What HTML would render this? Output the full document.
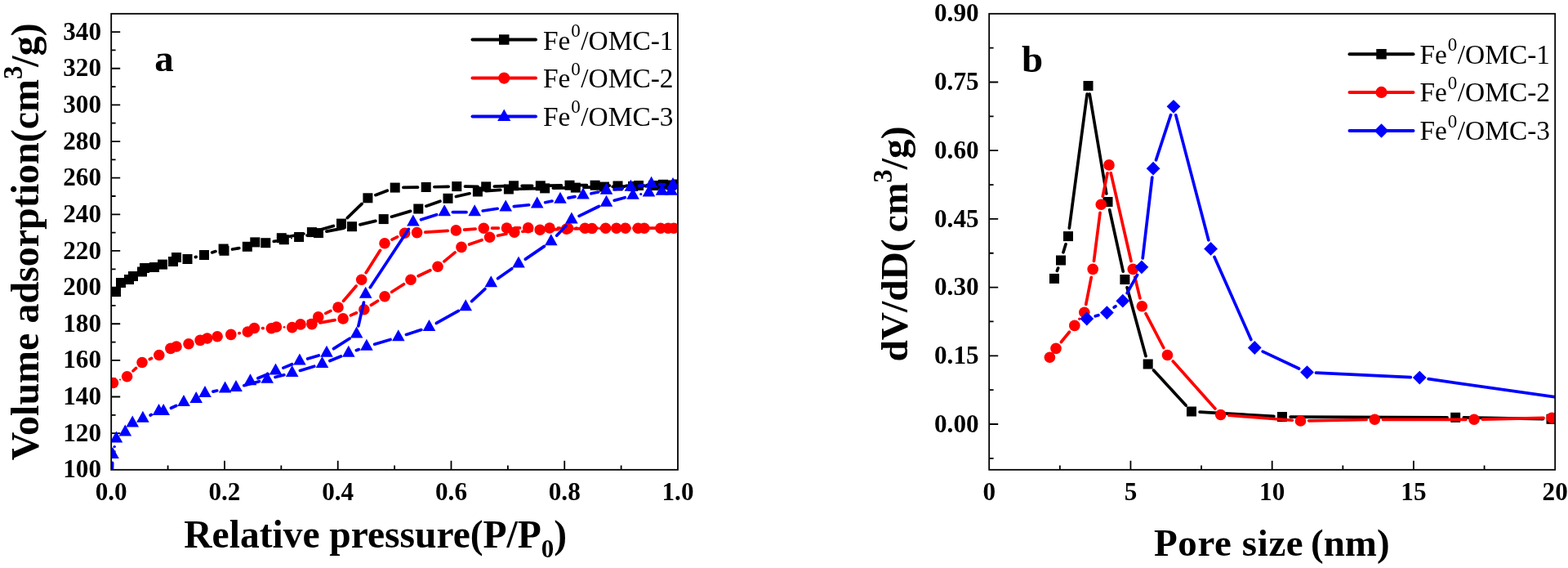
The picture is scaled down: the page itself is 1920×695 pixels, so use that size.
<!DOCTYPE html><html><head><meta charset="utf-8"><title>Isotherms and pore size distribution</title>
<style>html,body{margin:0;padding:0;background:#fff;width:1920px;height:695px;overflow:hidden}svg{display:block}</style></head><body>
<svg width="1920" height="695" viewBox="0 0 1920 695">
<rect width="1920" height="695" fill="#fff"/>
<defs><clipPath id="ca"><rect x="136.2" y="16.8" width="693.8" height="558"/></clipPath><clipPath id="cb"><rect x="1211.2" y="16.8" width="693" height="558"/></clipPath></defs>
<path d="M136.2 552.48h5.4M136.2 530.16h11M136.2 507.84h5.4M136.2 485.52h11M136.2 463.2h5.4M136.2 440.88h11M136.2 418.56h5.4M136.2 396.24h11M136.2 373.92h5.4M136.2 351.6h11M136.2 329.28h5.4M136.2 306.96h11M136.2 284.64h5.4M136.2 262.32h11M136.2 240h5.4M136.2 217.68h11M136.2 195.36h5.4M136.2 173.04h11M136.2 150.72h5.4M136.2 128.4h11M136.2 106.08h5.4M136.2 83.76h11M136.2 61.44h5.4M136.2 39.12h11M205.58 574.8v-5.4M274.96 574.8v-11M344.34 574.8v-5.4M413.72 574.8v-11M483.1 574.8v-5.4M552.48 574.8v-11M621.86 574.8v-5.4M691.24 574.8v-11M760.62 574.8v-5.4M1211.2 560.85h5.4M1211.2 519h11M1211.2 477.15h5.4M1211.2 435.3h11M1211.2 393.45h5.4M1211.2 351.6h11M1211.2 309.75h5.4M1211.2 267.9h11M1211.2 226.05h5.4M1211.2 184.2h11M1211.2 142.35h5.4M1211.2 100.5h11M1211.2 58.65h5.4M1297.83 574.8v-5.4M1384.45 574.8v-11M1471.08 574.8v-5.4M1557.7 574.8v-11M1644.33 574.8v-5.4M1730.95 574.8v-11M1817.58 574.8v-5.4" stroke="#000" stroke-width="1.8" fill="none"/>
<g style='font-family:"Liberation Serif","Times New Roman",serif;font-weight:bold;font-size:31.2px' fill="#000"><text x="124" y="584.4" text-anchor="end">100</text><text x="124" y="539.76" text-anchor="end">120</text><text x="124" y="495.12" text-anchor="end">140</text><text x="124" y="450.48" text-anchor="end">160</text><text x="124" y="405.84" text-anchor="end">180</text><text x="124" y="361.2" text-anchor="end">200</text><text x="124" y="316.56" text-anchor="end">220</text><text x="124" y="271.92" text-anchor="end">240</text><text x="124" y="227.28" text-anchor="end">260</text><text x="124" y="182.64" text-anchor="end">280</text><text x="124" y="138" text-anchor="end">300</text><text x="124" y="93.36" text-anchor="end">320</text><text x="124" y="48.72" text-anchor="end">340</text><text x="136.2" y="611.8" text-anchor="middle">0.0</text><text x="274.96" y="611.8" text-anchor="middle">0.2</text><text x="413.72" y="611.8" text-anchor="middle">0.4</text><text x="552.48" y="611.8" text-anchor="middle">0.6</text><text x="691.24" y="611.8" text-anchor="middle">0.8</text><text x="830" y="611.8" text-anchor="middle">1.0</text><text x="1198.6" y="528.6" text-anchor="end">0.00</text><text x="1198.6" y="444.9" text-anchor="end">0.15</text><text x="1198.6" y="361.2" text-anchor="end">0.30</text><text x="1198.6" y="277.5" text-anchor="end">0.45</text><text x="1198.6" y="193.8" text-anchor="end">0.60</text><text x="1198.6" y="110.1" text-anchor="end">0.75</text><text x="1198.6" y="26.4" text-anchor="end">0.90</text><text x="1211.2" y="611.8" text-anchor="middle">0</text><text x="1384.45" y="611.8" text-anchor="middle">5</text><text x="1557.7" y="611.8" text-anchor="middle">10</text><text x="1730.95" y="611.8" text-anchor="middle">15</text><text x="1904.2" y="611.8" text-anchor="middle">20</text></g>
<g clip-path="url(#ca)">
<path d="M239.36 314.59L240.14 314.41M259.67 308.93L263.93 307.57M284.5 305.03L292.8 303.57M335.29 295.42L337.81 294.98M376.04 287.96L380.06 287.14M399.97 283.18L421.03 279.12M440.88 274.88L459.82 270.42M479.43 265.22L502.57 258.38M521.88 252.14L538.92 246.16M558.4 240.54L575 236.76M595.02 233.7L612.78 232.3M633.05 231.25L657.05 230.65M677.35 230.18L694.65 229.82M714.95 229.31L729.85 228.89M750.15 228.43L764.85 228.17M785.14 227.59L789.86 227.41M810.15 226.77L811.85 226.73M801.86 226.21L792.14 226.59M771.85 227.2L766.65 227.3M746.35 227.21L738.75 226.99M718.45 226.7L707.65 226.7M687.35 226.87L671.95 227.13M651.65 227.3L639.15 227.3M618.86 227.63L605.34 228.07M585.05 228.32L569.45 228.18M549.15 228.34L531.85 228.76M511.55 229.16L493.85 229.44M474.22 233.22L459.88 238.68M443.1 249.35L425.3 266.55M408.25 276.43L391.65 281.27M371.93 286.01L354.77 289.29" stroke="#000" stroke-width="3.7" stroke-linecap="round" fill="none"/><circle cx="356.95" cy="291.6" r="0.99" fill="#000"/>
<g><rect x="136" y="351" width="12" height="12" fill="#000"/><rect x="142" y="340" width="12" height="12" fill="#000"/><rect x="152" y="336" width="12" height="12" fill="#000"/><rect x="157" y="332" width="12" height="12" fill="#000"/><rect x="168" y="326.5" width="12" height="12" fill="#000"/><rect x="171" y="322" width="12" height="12" fill="#000"/><rect x="183" y="321" width="12" height="12" fill="#000"/><rect x="193" y="317.6" width="12" height="12" fill="#000"/><rect x="206" y="314" width="12" height="12" fill="#000"/><rect x="210" y="309" width="12" height="12" fill="#000"/><rect x="223.5" y="311" width="12" height="12" fill="#000"/><rect x="244" y="306" width="12" height="12" fill="#000"/><rect x="267.6" y="298.5" width="12" height="12" fill="#000"/><rect x="268.5" y="300.8" width="12" height="12" fill="#000"/><rect x="296.8" y="295.8" width="12" height="12" fill="#000"/><rect x="306.3" y="290.4" width="12" height="12" fill="#000"/><rect x="319.3" y="291.2" width="12" height="12" fill="#000"/><rect x="341.8" y="287.2" width="12" height="12" fill="#000"/><rect x="360.1" y="284" width="12" height="12" fill="#000"/><rect x="384" y="279.1" width="12" height="12" fill="#000"/><rect x="425" y="271.2" width="12" height="12" fill="#000"/><rect x="463.7" y="262.1" width="12" height="12" fill="#000"/><rect x="506.3" y="249.5" width="12" height="12" fill="#000"/><rect x="542.5" y="236.8" width="12" height="12" fill="#000"/><rect x="578.9" y="228.5" width="12" height="12" fill="#000"/><rect x="616.9" y="225.5" width="12" height="12" fill="#000"/><rect x="661.2" y="224.4" width="12" height="12" fill="#000"/><rect x="698.8" y="223.6" width="12" height="12" fill="#000"/><rect x="734" y="222.6" width="12" height="12" fill="#000"/><rect x="769" y="222" width="12" height="12" fill="#000"/><rect x="794" y="221" width="12" height="12" fill="#000"/><rect x="816" y="220.5" width="12" height="12" fill="#000"/><rect x="823" y="219.5" width="12" height="12" fill="#000"/><rect x="806" y="219.8" width="12" height="12" fill="#000"/><rect x="776" y="221" width="12" height="12" fill="#000"/><rect x="750.5" y="221.5" width="12" height="12" fill="#000"/><rect x="722.6" y="220.7" width="12" height="12" fill="#000"/><rect x="691.5" y="220.7" width="12" height="12" fill="#000"/><rect x="655.8" y="221.3" width="12" height="12" fill="#000"/><rect x="623" y="221.3" width="12" height="12" fill="#000"/><rect x="589.2" y="222.4" width="12" height="12" fill="#000"/><rect x="553.3" y="222.1" width="12" height="12" fill="#000"/><rect x="515.7" y="223" width="12" height="12" fill="#000"/><rect x="477.7" y="223.6" width="12" height="12" fill="#000"/><rect x="444.4" y="236.3" width="12" height="12" fill="#000"/><rect x="412" y="267.6" width="12" height="12" fill="#000"/><rect x="375.9" y="278.1" width="12" height="12" fill="#000"/><rect x="338.8" y="285.2" width="12" height="12" fill="#000"/></g>
<path d="M163.01 453.77L166.59 450.43M183.32 439.47L185.48 438.53M292.81 407.74L293.29 407.66M321.55 401.6L322.15 401.6M367.71 398.94L371.89 398.26M391.9 394.85L410.1 391.65M429.42 385.88L436.48 382.82M454.38 373.37L462.52 368.23M479.63 357.29L494.47 347.71M512.14 337.79L526.86 330.71M543.83 319.84L557.17 308.86M574.58 299.05L590.02 293.65M609.55 288.29L619.85 286.21M639.91 283.27L651.09 282.23M671.34 280.96L683.46 280.54M703.75 279.97L714.75 279.73M735.05 279.43L744.65 279.37M764.95 279.26L771.15 279.24M791.45 279.2L798.75 279.2M807.95 279.2L799.05 279.2M778.75 279.2L775.95 279.2M755.65 279.2L751.75 279.2M731.45 279.2L726.45 279.2M706.15 279.2L705.65 279.2M685.35 279.11L683.15 279.09M662.85 278.92L656.85 278.88M636.55 278.88L630.65 278.92M610.35 279.11L602.45 279.19M582.18 280.08L568.52 281.12M548.27 282.47L520.73 284.03M486.57 289.83L480.03 293.17M465.54 306.36L448.16 333.64M436.13 349.94L420.57 368.26M404.88 380.46L398.82 383.44M380.32 391.79L377.38 393.01" stroke="#f00" stroke-width="3.7" stroke-linecap="round" fill="none"/><circle cx="147.05" cy="464.6" r="1.1" fill="#f00"/><circle cx="348.05" cy="400.3" r="1.35" fill="#f00"/>
<g><circle cx="138.5" cy="468.5" r="6.8" fill="#f00"/><circle cx="155.6" cy="460.7" r="6.8" fill="#f00"/><circle cx="174" cy="443.5" r="6.8" fill="#f00"/><circle cx="194.8" cy="434.5" r="6.8" fill="#f00"/><circle cx="208.9" cy="426.4" r="6.8" fill="#f00"/><circle cx="216" cy="424" r="6.8" fill="#f00"/><circle cx="231" cy="420.7" r="6.8" fill="#f00"/><circle cx="245.1" cy="416.4" r="6.8" fill="#f00"/><circle cx="253.7" cy="414" r="6.8" fill="#f00"/><circle cx="266.1" cy="411.7" r="6.8" fill="#f00"/><circle cx="282.8" cy="409.4" r="6.8" fill="#f00"/><circle cx="303.3" cy="406" r="6.8" fill="#f00"/><circle cx="311.4" cy="401.5" r="6.8" fill="#f00"/><circle cx="332.3" cy="401.7" r="6.8" fill="#f00"/><circle cx="338.4" cy="400" r="6.8" fill="#f00"/><circle cx="357.7" cy="400.6" r="6.8" fill="#f00"/><circle cx="381.9" cy="396.6" r="6.8" fill="#f00"/><circle cx="420.1" cy="389.9" r="6.8" fill="#f00"/><circle cx="445.8" cy="378.8" r="6.8" fill="#f00"/><circle cx="471.1" cy="362.8" r="6.8" fill="#f00"/><circle cx="503" cy="342.2" r="6.8" fill="#f00"/><circle cx="536" cy="326.3" r="6.8" fill="#f00"/><circle cx="565" cy="302.4" r="6.8" fill="#f00"/><circle cx="599.6" cy="290.3" r="6.8" fill="#f00"/><circle cx="629.8" cy="284.2" r="6.8" fill="#f00"/><circle cx="661.2" cy="281.3" r="6.8" fill="#f00"/><circle cx="693.6" cy="280.2" r="6.8" fill="#f00"/><circle cx="724.9" cy="279.5" r="6.8" fill="#f00"/><circle cx="754.8" cy="279.3" r="6.8" fill="#f00"/><circle cx="781.3" cy="279.2" r="6.8" fill="#f00"/><circle cx="808.9" cy="279.2" r="6.8" fill="#f00"/><circle cx="825" cy="279.2" r="6.8" fill="#f00"/><circle cx="818.1" cy="279.2" r="6.8" fill="#f00"/><circle cx="788.9" cy="279.2" r="6.8" fill="#f00"/><circle cx="765.8" cy="279.2" r="6.8" fill="#f00"/><circle cx="741.6" cy="279.2" r="6.8" fill="#f00"/><circle cx="716.3" cy="279.2" r="6.8" fill="#f00"/><circle cx="695.5" cy="279.2" r="6.8" fill="#f00"/><circle cx="673" cy="279" r="6.8" fill="#f00"/><circle cx="646.7" cy="278.8" r="6.8" fill="#f00"/><circle cx="620.5" cy="279" r="6.8" fill="#f00"/><circle cx="592.3" cy="279.3" r="6.8" fill="#f00"/><circle cx="558.4" cy="281.9" r="6.8" fill="#f00"/><circle cx="510.6" cy="284.6" r="6.8" fill="#f00"/><circle cx="495.6" cy="285.2" r="6.8" fill="#f00"/><circle cx="471" cy="297.8" r="6.8" fill="#f00"/><circle cx="442.7" cy="342.2" r="6.8" fill="#f00"/><circle cx="414" cy="376" r="6.8" fill="#f00"/><circle cx="389.7" cy="387.9" r="6.8" fill="#f00"/><circle cx="368" cy="396.9" r="6.8" fill="#f00"/></g>
<path d="M137.32 577.86L137.68 566.47M184.16 507.97L185.24 507.49M209.49 499.25L215.71 496.51M260.89 479.14L265.71 478.02M298.8 471.69L317.4 466.67M337.04 461.55L347.86 458.81M367.42 453.42L384.78 448.24M403.9 441.49L417.4 435.97M436.34 428.68L439.36 427.58M458.63 421.23L478.07 415.43M497.46 409.43L515.84 403.53M534.37 395.49L561.33 380.47M577.64 368.62L593.86 353.54M609.59 340.77L626.71 328.69M643.38 317.1L666.42 301.36M681.72 288.21L692.98 276.15M709.03 264.29L733.37 252.47M752.28 245.32L765.22 241.74M813.86 225.83L807.74 225.53M787.58 226.62L782.42 227.44M762.34 230.38L752.56 231.68M732.55 235.05L723.95 236.81M704.02 240.68L695.98 242.18M676.05 246.03L667.65 247.73M647.6 250.78L629.3 252.68M609.17 255.26L591.23 258M571.05 259.53L554.35 259.53M534.54 262.66L515.56 268.8M500.31 280.4L453.29 351.66M445.44 370.03L438.86 398.93M428.04 414.28L408.56 426.68M390.27 435.01L376.63 439.05M357.5 445.77L346.9 450.09M328.11 457.78L315.89 462.78" stroke="#00f" stroke-width="3.7" stroke-linecap="round" fill="none"/><circle cx="140.2" cy="546.58" r="1.7" fill="#00f"/><circle cx="784.75" cy="237.48" r="1.57" fill="#00f"/>
<g><polygon points="137,578.67 144.8,592.67 129.2,592.67" fill="#00f"/><polygon points="138,547 145.8,561 130.2,561" fill="#00f"/><polygon points="142.4,527.5 150.2,541.5 134.6,541.5" fill="#00f"/><polygon points="153.3,519.5 161.1,533.5 145.5,533.5" fill="#00f"/><polygon points="162.2,508.5 170,522.5 154.4,522.5" fill="#00f"/><polygon points="174.9,502.8 182.7,516.8 167.1,516.8" fill="#00f"/><polygon points="194.5,494 202.3,508 186.7,508" fill="#00f"/><polygon points="200.2,494 208,508 192.4,508" fill="#00f"/><polygon points="225,483.1 232.8,497.1 217.2,497.1" fill="#00f"/><polygon points="240.2,479 248,493 232.4,493" fill="#00f"/><polygon points="251,472.1 258.8,486.1 243.2,486.1" fill="#00f"/><polygon points="275.6,466.4 283.4,480.4 267.8,480.4" fill="#00f"/><polygon points="289,465 296.8,479 281.2,479" fill="#00f"/><polygon points="327.2,454.7 335,468.7 319.4,468.7" fill="#00f"/><polygon points="357.7,447 365.5,461 349.9,461" fill="#00f"/><polygon points="394.5,436 402.3,450 386.7,450" fill="#00f"/><polygon points="426.8,422.8 434.6,436.8 419,436.8" fill="#00f"/><polygon points="448.9,414.8 456.7,428.8 441.1,428.8" fill="#00f"/><polygon points="487.8,403.2 495.6,417.2 480,417.2" fill="#00f"/><polygon points="525.5,391.1 533.3,405.1 517.7,405.1" fill="#00f"/><polygon points="570.2,366.2 578,380.2 562.4,380.2" fill="#00f"/><polygon points="601.3,337.3 609.1,351.3 593.5,351.3" fill="#00f"/><polygon points="635,313.5 642.8,327.5 627.2,327.5" fill="#00f"/><polygon points="674.8,286.3 682.6,300.3 667,300.3" fill="#00f"/><polygon points="699.9,259.4 707.7,273.4 692.1,273.4" fill="#00f"/><polygon points="742.5,238.7 750.3,252.7 734.7,252.7" fill="#00f"/><polygon points="775,229.7 782.8,243.7 767.2,243.7" fill="#00f"/><polygon points="794.5,226.6 802.3,240.6 786.7,240.6" fill="#00f"/><polygon points="810.5,224.7 818.3,238.7 802.7,238.7" fill="#00f"/><polygon points="822,224.7 829.8,238.7 814.2,238.7" fill="#00f"/><polygon points="824,217 831.8,231 816.2,231" fill="#00f"/><polygon points="797.6,215.7 805.4,229.7 789.8,229.7" fill="#00f"/><polygon points="772.4,219.7 780.2,233.7 764.6,233.7" fill="#00f"/><polygon points="742.5,223.7 750.3,237.7 734.7,237.7" fill="#00f"/><polygon points="714,229.5 721.8,243.5 706.2,243.5" fill="#00f"/><polygon points="686,234.7 693.8,248.7 678.2,248.7" fill="#00f"/><polygon points="657.7,240.4 665.5,254.4 649.9,254.4" fill="#00f"/><polygon points="619.2,244.4 627,258.4 611.4,258.4" fill="#00f"/><polygon points="581.2,250.2 589,264.2 573.4,264.2" fill="#00f"/><polygon points="544.2,250.2 552,264.2 536.4,264.2" fill="#00f"/><polygon points="505.9,262.6 513.7,276.6 498.1,276.6" fill="#00f"/><polygon points="447.7,350.8 455.5,364.8 439.9,364.8" fill="#00f"/><polygon points="436.6,399.5 444.4,413.5 428.8,413.5" fill="#00f"/><polygon points="400,422.8 407.8,436.8 392.2,436.8" fill="#00f"/><polygon points="366.9,432.6 374.7,446.6 359.1,446.6" fill="#00f"/><polygon points="337.5,444.6 345.3,458.6 329.7,458.6" fill="#00f"/><polygon points="306.5,457.3 314.3,471.3 298.7,471.3" fill="#00f"/></g>
</g>
<g clip-path="url(#cb)">
<path d="M1294.41 331.34L1295.59 328.06M1301.97 308.79L1305.03 298.81M1309.34 279.04L1331.16 115.06M1334.19 115.01L1354.81 236.99M1358.68 256.91L1375.22 332.09M1380.08 351.79L1403.02 435.71M1412.57 452.97L1452.13 496.03M1469.13 504.09L1559.87 509.41M1580.15 510.04L1772.05 510.76M1792.35 510.97L1889.35 512.63" stroke="#000" stroke-width="3.7" stroke-linecap="round" fill="none"/>
<g><rect x="1285" y="334.9" width="12" height="12" fill="#000"/><rect x="1293" y="312.5" width="12" height="12" fill="#000"/><rect x="1302" y="283.1" width="12" height="12" fill="#000"/><rect x="1326.5" y="99" width="12" height="12" fill="#000"/><rect x="1350.5" y="241" width="12" height="12" fill="#000"/><rect x="1371.4" y="336" width="12" height="12" fill="#000"/><rect x="1399.7" y="439.5" width="12" height="12" fill="#000"/><rect x="1453" y="497.5" width="12" height="12" fill="#000"/><rect x="1564" y="504" width="12" height="12" fill="#000"/><rect x="1776.2" y="504.8" width="12" height="12" fill="#000"/><rect x="1893.5" y="506.8" width="12" height="12" fill="#000"/></g>
<path d="M1299.41 418.53L1309.39 406.27M1329.76 372.34L1336.24 339.36M1339.49 319.33L1347.01 260.37M1350.29 240.35L1356.01 211.85M1360.27 211.79L1385.03 319.51M1389.7 339.26L1395.9 364.84M1403 383.7L1424.8 425.5M1436.26 442.07L1487.94 499.93M1504.82 508.28L1582.38 514.22M1602.65 514.81L1673.15 513.49M1693.45 513.3L1794.85 513.3M1815.15 513.08L1890.05 511.42" stroke="#f00" stroke-width="3.7" stroke-linecap="round" fill="none"/><circle cx="1321.8" cy="390.35" r="1.74" fill="#f00"/>
<g><circle cx="1285.4" cy="437.3" r="6.8" fill="#f00"/><circle cx="1293" cy="426.4" r="6.8" fill="#f00"/><circle cx="1315.8" cy="398.4" r="6.8" fill="#f00"/><circle cx="1327.8" cy="382.3" r="6.8" fill="#f00"/><circle cx="1338.2" cy="329.4" r="6.8" fill="#f00"/><circle cx="1348.3" cy="250.3" r="6.8" fill="#f00"/><circle cx="1358" cy="201.9" r="6.8" fill="#f00"/><circle cx="1387.3" cy="329.4" r="6.8" fill="#f00"/><circle cx="1398.3" cy="374.7" r="6.8" fill="#f00"/><circle cx="1429.5" cy="434.5" r="6.8" fill="#f00"/><circle cx="1494.7" cy="507.5" r="6.8" fill="#f00"/><circle cx="1592.5" cy="515" r="6.8" fill="#f00"/><circle cx="1683.3" cy="513.3" r="6.8" fill="#f00"/><circle cx="1805" cy="513.3" r="6.8" fill="#f00"/><circle cx="1900.2" cy="511.2" r="6.8" fill="#f00"/></g>
<path d="M1341.29 386.85L1344.91 385.75M1364.19 376.07L1366.01 374.73M1380.14 358.64L1392.56 336.36M1399.18 315.93L1410.82 217.07M1415.51 195.8L1433.59 140.7M1439.77 140.89L1479.83 293.81M1487.04 314.41L1531.86 415.49M1546.21 430.15L1590.59 450.95M1611.44 456.12L1727.36 461.58M1749.14 463.65L1949.16 492.25" stroke="#00f" stroke-width="3.7" stroke-linecap="round" fill="none"/>
<g><polygon points="1330.8,381.6 1339.2,390 1330.8,398.4 1322.4,390" fill="#00f"/><polygon points="1355.4,374.2 1363.8,382.6 1355.4,391 1347,382.6" fill="#00f"/><polygon points="1374.8,359.8 1383.2,368.2 1374.8,376.6 1366.4,368.2" fill="#00f"/><polygon points="1397.9,318.4 1406.3,326.8 1397.9,335.2 1389.5,326.8" fill="#00f"/><polygon points="1412.1,197.8 1420.5,206.2 1412.1,214.6 1403.7,206.2" fill="#00f"/><polygon points="1437,121.9 1445.4,130.3 1437,138.7 1428.6,130.3" fill="#00f"/><polygon points="1482.6,296 1491,304.4 1482.6,312.8 1474.2,304.4" fill="#00f"/><polygon points="1536.3,417.1 1544.7,425.5 1536.3,433.9 1527.9,425.5" fill="#00f"/><polygon points="1600.5,447.2 1608.9,455.6 1600.5,464 1592.1,455.6" fill="#00f"/><polygon points="1738.3,453.7 1746.7,462.1 1738.3,470.5 1729.9,462.1" fill="#00f"/><polygon points="1960,485.4 1968.4,493.8 1960,502.2 1951.6,493.8" fill="#00f"/></g>
</g>
<rect x="136.2" y="16.8" width="693.8" height="558" fill="none" stroke="#000" stroke-width="1.8"/>
<rect x="1211.2" y="16.8" width="693" height="558" fill="none" stroke="#000" stroke-width="1.8"/>
<g style='font-family:"Liberation Serif","Times New Roman",serif;font-weight:bold' fill="#000">
<text x="225.3" y="669.6" font-size="47.5">Relative pressure(P/P<tspan font-size="31" dy="12.5">0</tspan><tspan dy="-12.5">)</tspan></text>
<text x="1413" y="679.6" font-size="47" letter-spacing="0.6">Pore size</text>
<text x="1605" y="679.6" font-size="47">(nm)</text>
<text transform="translate(46.6,563.2) rotate(-90)" font-size="48">Volume adsorption(cm<tspan font-size="33" dy="-19.5">3</tspan><tspan dx="-1.2" dy="19.5">/g)</tspan></text>
<text transform="translate(1111.3,442.6) rotate(-90)" font-size="47.4">dV/dD(<tspan dx="-3.5"> cm</tspan><tspan font-size="33" dy="-19.5">3</tspan><tspan dy="19.5">/g)</tspan></text>
<text x="189.3" y="87.3" font-size="47">a</text><text x="1251" y="88" font-size="47">b</text>
</g>
<path d="M578.5 48.5H656" stroke="#000" stroke-width="4.0" stroke-linecap="round"/>
<rect x="611.01" y="42.26" width="12.48" height="12.48" fill="#000"/>
<text x="665" y="60.5" style='font-family:"Liberation Serif","Times New Roman",serif;font-size:33.4px' fill="#000">Fe<tspan font-size="23" dx="0.8" dy="-15.6">0</tspan><tspan dx="0.6" dy="15.6">/OMC-1</tspan></text>
<path d="M578.5 95.6H656" stroke="#f00" stroke-width="4.0" stroke-linecap="round"/>
<circle cx="617.25" cy="95.6" r="7.07" fill="#f00"/>
<text x="665" y="107.4" style='font-family:"Liberation Serif","Times New Roman",serif;font-size:33.4px' fill="#000">Fe<tspan font-size="23" dx="0.8" dy="-15.6">0</tspan><tspan dx="0.6" dy="15.6">/OMC-2</tspan></text>
<path d="M578.5 142.6H656" stroke="#00f" stroke-width="4.0" stroke-linecap="round"/>
<polygon points="617.25,133.39 625.36,147.95 609.14,147.95" fill="#00f"/>
<text x="665" y="154" style='font-family:"Liberation Serif","Times New Roman",serif;font-size:33.4px' fill="#000">Fe<tspan font-size="23" dx="0.8" dy="-15.6">0</tspan><tspan dx="0.6" dy="15.6">/OMC-3</tspan></text>
<path d="M1652.5 66.2H1730.5" stroke="#000" stroke-width="4.0" stroke-linecap="round"/>
<rect x="1685.26" y="59.96" width="12.48" height="12.48" fill="#000"/>
<text x="1738.5" y="77.7" style='font-family:"Liberation Serif","Times New Roman",serif;font-size:33.4px' fill="#000">Fe<tspan font-size="23" dx="0.8" dy="-15.6">0</tspan><tspan dx="0.6" dy="15.6">/OMC-1</tspan></text>
<path d="M1652.5 112.9H1730.5" stroke="#f00" stroke-width="4.0" stroke-linecap="round"/>
<circle cx="1691.5" cy="112.9" r="7.07" fill="#f00"/>
<text x="1738.5" y="124.4" style='font-family:"Liberation Serif","Times New Roman",serif;font-size:33.4px' fill="#000">Fe<tspan font-size="23" dx="0.8" dy="-15.6">0</tspan><tspan dx="0.6" dy="15.6">/OMC-2</tspan></text>
<path d="M1652.5 160.1H1730.5" stroke="#00f" stroke-width="4.0" stroke-linecap="round"/>
<polygon points="1691.5,151.36 1700.24,160.1 1691.5,168.84 1682.76,160.1" fill="#00f"/>
<text x="1738.5" y="171.1" style='font-family:"Liberation Serif","Times New Roman",serif;font-size:33.4px' fill="#000">Fe<tspan font-size="23" dx="0.8" dy="-15.6">0</tspan><tspan dx="0.6" dy="15.6">/OMC-3</tspan></text>
</svg></body></html>
